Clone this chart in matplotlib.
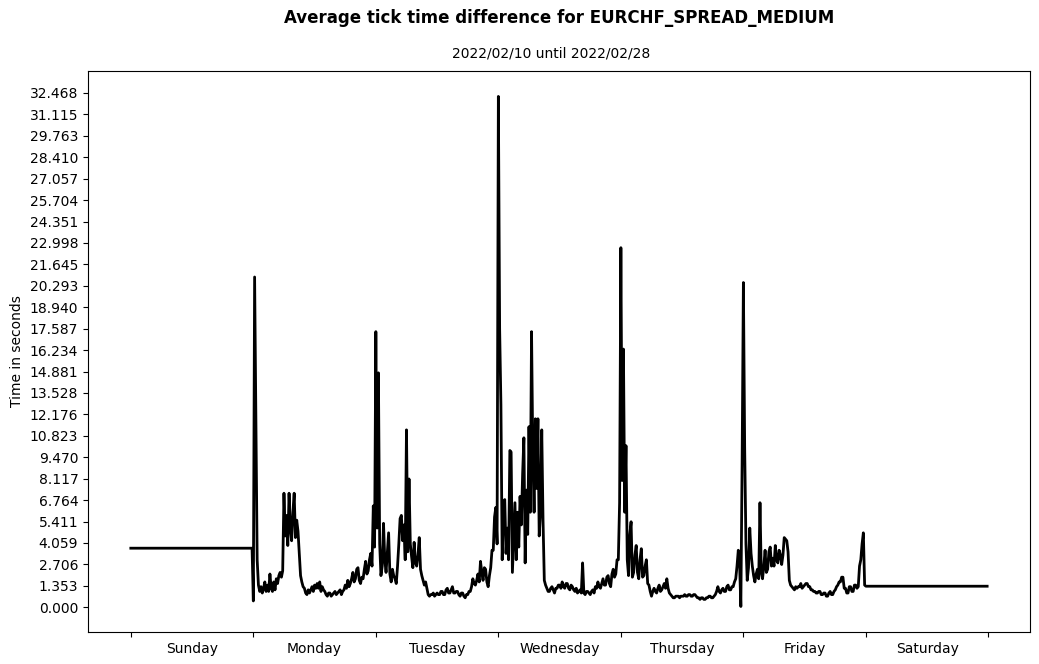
import numpy as np
import matplotlib
matplotlib.use("Agg")
import matplotlib.pyplot as plt
from matplotlib.ticker import FixedLocator

# average tick time difference (seconds), one value per 15 minutes, Sunday..Saturday
days = ["Sunday", "Monday", "Tuesday", "Wednesday", "Thursday", "Friday", "Saturday"]

sunday = [3.73] * 96

monday = [0.4, 20.85, 12.0, 3.0, 1.4, 1.0, 1.3, 0.9, 1.2, 1.6, 1.0, 1.4,
          1.0, 2.1, 1.2, 1.0, 1.6, 1.1, 1.8, 1.5, 2.0, 2.2, 1.9, 2.3,
          7.2, 4.5, 5.8, 3.9, 7.2, 5.0, 4.2, 6.0, 7.2, 4.4, 5.5, 4.8,
          3.4, 2.0, 1.6, 1.3, 1.2, 0.9, 0.8, 1.1, 0.9, 1.1, 1.3, 1.0,
          1.4, 1.2, 1.5, 1.2, 1.6, 1.0, 1.3, 1.1, 1.0, 0.8, 0.7, 0.9,
          0.9, 0.7, 0.8, 0.9, 1.0, 0.8, 0.9, 1.0, 1.1, 0.8, 1.0, 1.1,
          1.4, 1.2, 1.7, 1.3, 1.5, 1.8, 2.2, 1.6, 1.8, 2.4, 2.5, 1.7,
          1.5, 1.9, 1.8, 2.4, 2.9, 2.1, 2.3, 3.0, 3.4, 2.6, 6.4, 3.8]

tuesday = [17.4, 5.0, 14.8, 4.0, 2.0, 2.6, 5.3, 3.0, 2.2, 3.5, 4.7, 2.1,
           1.6, 2.4, 2.0, 1.8, 1.5, 2.6, 4.0, 5.6, 5.8, 4.2, 5.2, 3.0,
           11.2, 3.5, 8.1, 4.0, 3.2, 2.5, 4.1, 2.8, 2.6, 3.3, 4.4, 2.4,
           2.0, 1.7, 1.4, 1.6, 1.2, 0.8, 0.7, 0.8, 0.8, 0.9, 0.7, 0.8,
           0.9, 0.8, 0.8, 1.0, 1.0, 0.8, 0.8, 1.1, 1.2, 0.9, 0.9, 1.1,
           1.3, 0.9, 0.9, 1.0, 1.0, 0.8, 0.7, 0.9, 0.9, 0.7, 0.6, 0.8,
           0.8, 1.0, 1.0, 1.3, 1.8, 1.5, 1.4, 1.7, 2.1, 1.6, 2.9, 2.2,
           1.7, 2.5, 2.4, 1.6, 1.3, 2.0, 2.5, 3.6, 3.6, 5.7, 6.3, 4.0]

wednesday = [32.25, 17.6, 12.8, 3.0, 6.3, 6.8, 3.4, 5.0, 3.0, 9.9, 9.8, 2.2,
             4.5, 6.6, 3.0, 6.0, 3.8, 7.0, 5.2, 8.4, 10.7, 2.8, 7.4, 4.6,
             11.4, 6.0, 17.4, 9.6, 6.0, 11.9, 7.5, 11.9, 4.5, 6.0, 11.2, 5.5,
             1.7, 1.4, 1.2, 1.0, 1.0, 1.2, 1.3, 1.1, 0.9, 1.2, 1.2, 1.4,
             1.4, 1.2, 1.6, 1.3, 1.2, 1.5, 1.5, 1.2, 1.1, 1.4, 1.3, 1.1,
             1.0, 1.2, 0.9, 1.0, 1.1, 0.9, 2.8, 0.9, 0.8, 1.0, 1.0, 0.9,
             0.8, 1.0, 1.1, 0.9, 1.3, 1.2, 1.6, 1.3, 1.2, 1.5, 1.8, 1.4,
             1.4, 1.9, 2.0, 1.5, 1.3, 2.1, 2.4, 1.9, 2.1, 3.0, 3.0, 6.6]

thursday = [22.7, 8.0, 16.3, 6.0, 10.2, 3.0, 2.0, 4.6, 5.4, 1.9, 2.2, 3.3,
            3.9, 2.2, 1.8, 3.0, 3.7, 1.9, 2.0, 2.6, 3.0, 1.5, 1.4, 1.0,
            0.7, 1.0, 1.2, 1.0, 0.9, 1.2, 1.4, 1.0, 1.1, 1.3, 1.5, 1.2,
            1.8, 1.2, 0.9, 0.8, 0.7, 0.6, 0.6, 0.7, 0.7, 0.7, 0.6, 0.7,
            0.7, 0.7, 0.8, 0.7, 0.7, 0.8, 0.8, 0.7, 0.7, 0.8, 0.8, 0.7,
            0.6, 0.6, 0.5, 0.6, 0.6, 0.5, 0.5, 0.6, 0.6, 0.7, 0.7, 0.6,
            0.6, 0.7, 0.8, 1.0, 1.3, 1.0, 0.9, 1.1, 1.2, 1.0, 1.0, 1.3,
            1.4, 1.1, 1.1, 1.3, 1.3, 1.6, 1.8, 2.6, 3.6, 2.8, 0.05, 9.1]

friday = [20.5, 10.1, 4.0, 1.7, 2.5, 5.0, 3.4, 2.6, 2.0, 1.6, 2.1, 2.4,
          1.8, 6.6, 2.2, 1.8, 2.6, 3.6, 2.2, 2.4, 3.5, 3.8, 2.6, 3.1,
          2.6, 3.9, 3.0, 2.8, 3.6, 3.3, 2.7, 3.3, 4.4, 4.3, 4.2, 3.5,
          1.7, 1.4, 1.3, 1.2, 1.1, 1.3, 1.2, 1.3, 1.3, 1.5, 1.2, 1.3,
          1.4, 1.5, 1.5, 1.3, 1.3, 1.1, 1.1, 1.0, 1.0, 0.9, 0.9, 1.0,
          1.0, 0.8, 0.8, 0.9, 0.9, 0.7, 0.7, 0.9, 1.0, 0.8, 0.8, 1.0,
          1.1, 1.3, 1.4, 1.6, 1.6, 1.9, 1.9, 1.2, 1.2, 0.9, 0.9, 1.3,
          1.3, 1.0, 1.0, 1.4, 1.4, 1.2, 1.3, 2.6, 3.0, 4.0, 4.7, 1.4]

saturday = [1.33] * 96

# top y tick shown in the chart
y_tick_max = 32.4682

values = np.array(sunday + monday + tuesday + wednesday + thursday + friday + saturday)
bins_per_day = 96
x = np.arange(len(values))

fig = plt.figure(figsize=(10.39, 6.64), dpi=100)
ax = fig.add_axes([0.0847, 0.0482, 0.9066, 0.845])

ax.plot(x, values, color="black", linewidth=2)

# day boundaries as major ticks, day names centred in between
bounds = np.arange(len(days) + 1) * bins_per_day
ax.set_xticks(bounds)
ax.set_xticklabels([])
ax.xaxis.set_minor_locator(FixedLocator(bounds[:-1] + bins_per_day / 2))
ax.set_xticklabels(days, minor=True)
ax.tick_params(axis="x", which="minor", length=0, pad=7)
span = bounds[-1] - 1
ax.set_xlim(-0.05 * span, span * 1.05)

yt = np.linspace(0, y_tick_max, 25)
ax.set_yticks(yt)
ax.set_yticklabels(["%.3f" % v for v in yt])
ax.set_ylabel("Time in seconds")

fig.text(0.538, 0.9729, "Average tick time difference for EURCHF_SPREAD_MEDIUM",
         fontweight="bold", fontsize=12, ha="center", va="center")
fig.text(0.5303, 0.9187, "2022/02/10 until 2022/02/28", fontsize=10,
         ha="center", va="center")

fig.savefig("out.png", dpi=100)
